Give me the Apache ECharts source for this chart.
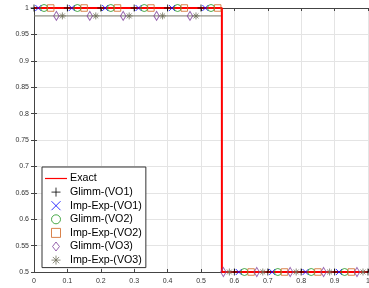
<!DOCTYPE html>
<html>
<head>
<meta charset="utf-8">
<script src="https://cdn.jsdelivr.net/npm/echarts@6/dist/echarts.min.js"></script>
<style>
  html, body { margin: 0; padding: 0; background: #fff; }
  #chart { width: 369px; height: 288px; }
</style>
</head>
<body>
<div id="chart"></div>
<script>
  // exact solution (step)
  var exactX = [0, 0.5625, 0.5625, 1]
  var exactY = [1, 1, 0.5, 0.5]

  // line under VO3 markers
  var vo3LineX = [0, 0.5625]
  var vo3LineY = [0.985, 0.985]

  // marker positions of each numerical solution
  var glimm1X = [0, 0.1, 0.2, 0.3, 0.4, 0.5, 0.6, 0.7, 0.8, 0.9, 1.0]
  var glimm1Y = [1, 1, 1, 1, 1, 1, 0.5, 0.5, 0.5, 0.5, 0.5]
  var impExp1X = [0.013, 0.113, 0.213, 0.313, 0.413, 0.513, 0.613, 0.713, 0.813, 0.913]
  var impExp1Y = [1, 1, 1, 1, 1, 1, 0.5, 0.5, 0.5, 0.5]
  var glimm2X = [0.03, 0.13, 0.23, 0.33, 0.43, 0.53, 0.63, 0.73, 0.83, 0.93]
  var glimm2Y = [1, 1, 1, 1, 1, 1, 0.5, 0.5, 0.5, 0.5]
  var impExp2X = [0.05, 0.15, 0.25, 0.35, 0.45, 0.55, 0.65, 0.75, 0.85, 0.95]
  var impExp2Y = [1, 1, 1, 1, 1, 1, 0.5, 0.5, 0.5, 0.5]
  var glimm3X = [0.067, 0.167, 0.267, 0.367, 0.467, 0.567, 0.667, 0.767, 0.867, 0.967]
  var glimm3Y = [0.985, 0.985, 0.985, 0.985, 0.985, 0.5, 0.5, 0.5, 0.5, 0.5]
  var impExp3X = [0.085, 0.185, 0.285, 0.385, 0.485, 0.585, 0.685, 0.785, 0.885, 0.985]
  var impExp3Y = [0.985, 0.985, 0.985, 0.985, 0.985, 0.5, 0.5, 0.5, 0.5, 0.5]

  var xTicks = ['0', '0.1', '0.2', '0.3', '0.4', '0.5', '0.6', '0.7', '0.8', '0.9', '1']
  var yTicks = ['0.5', '0.55', '0.6', '0.65', '0.7', '0.75', '0.8', '0.85', '0.9', '0.95', '1']

  var font = 'Liberation Sans, Arial, Helvetica, sans-serif'

  function pairs (xs, ys) {
    var out = []
    for (var i = 0; i < xs.length; i++) {
      out.push([xs[i], ys[i]])
    }
    return out
  }

  function markerSeries (name, xs, ys, symbol, size, color) {
    return {
      name: name,
      type: 'scatter',
      clip: false,
      symbol: symbol,
      symbolSize: size,
      symbolKeepAspect: true,
      itemStyle: {color: 'transparent', borderColor: color, borderWidth: 1},
      emphasis: {disabled: true},
      data: pairs(xs, ys),
      z: 3
    }
  }

  var plusPath = 'path://M0,5L10,5M5,0L5,10'
  var crossPath = 'path://M0,0L10,10M10,0L0,10'
  var starPath = 'path://M5,0L5,10M0,5L10,5M1.5,1.5L8.5,8.5M8.5,1.5L1.5,8.5'
  var squarePath = 'path://M0,0L10,0L10,10L0,10Z'
  var diamondPath = 'path://M5,0L10,6.5L5,13L0,6.5Z'
  var linePath = 'path://M0,0L22,0L22,1.2L0,1.2Z'

  var axisColor = '#444'
  var gridColor = '#e4e4e4'

  function legendItem (name, icon, color) {
    return {name: name, icon: icon, itemStyle: {color: 'transparent', borderColor: color, borderWidth: 1}}
  }

  var myChart = echarts.init(document.getElementById('chart'))
  var option = {
    animation: false,
    grid: {left: 34, right: 1, top: 8, bottom: 16, outerBoundsMode: 'none', containLabel: false},
    legend: {
      orient: 'vertical',
      left: 42,
      top: 167,
      padding: [6, 4, 2, 3],
      itemGap: 2.6,
      itemWidth: 22,
      itemHeight: 9,
      borderColor: '#333',
      borderWidth: 1,
      backgroundColor: '#fff',
      textStyle: {fontSize: 10.7, color: '#000', fontFamily: font, padding: [0, 0, 0, -2]},
      data: [
        {name: 'Exact', icon: linePath, itemStyle: {color: '#ff0000', borderWidth: 0}},
        legendItem('Glimm-(VO1)', plusPath, '#000000'),
        legendItem('Imp-Exp-(VO1)', crossPath, '#0000ff'),
        legendItem('Glimm-(VO2)', 'path://M5,0A5,5,0,1,1,4.99,0Z', '#1f961f'),
        legendItem('Imp-Exp-(VO2)', squarePath, '#cf6420'),
        legendItem('Glimm-(VO3)', diamondPath, '#7e3f9a'),
        legendItem('Imp-Exp-(VO3)', starPath, '#6e6e5a')
      ]
    },
    xAxis: [{
      type: 'value',
      min: 0,
      max: 1,
      interval: 0.1,
      axisLine: {lineStyle: {color: axisColor, width: 1}},
      axisTick: {inside: true, length: 3, lineStyle: {color: axisColor}},
      axisLabel: {
        fontSize: 7, color: '#333', fontFamily: font, margin: 6,
        formatter: function (v) { return xTicks[Math.round(v * 10)] }
      },
      splitLine: {show: true, lineStyle: {color: gridColor, width: 1}}
    }, {
      type: 'value',
      position: 'top',
      min: 0,
      max: 1,
      interval: 0.1,
      axisLine: {show: true, lineStyle: {color: axisColor, width: 1}},
      axisTick: {show: true, inside: true, length: 3, lineStyle: {color: axisColor}},
      axisLabel: {show: false},
      splitLine: {show: false}
    }],
    yAxis: [{
      type: 'value',
      min: 0.5,
      max: 1,
      interval: 0.05,
      axisLine: {show: true, lineStyle: {color: axisColor, width: 1}},
      axisTick: {show: true, inside: true, length: 3, lineStyle: {color: axisColor}},
      axisLabel: {
        fontSize: 7, color: '#333', fontFamily: font, margin: 5,
        formatter: function (v) { return yTicks[Math.round((v - 0.5) * 20)] }
      },
      splitLine: {show: true, lineStyle: {color: gridColor, width: 1}}
    }, {
      type: 'value',
      position: 'right',
      min: 0.5,
      max: 1,
      interval: 0.05,
      axisLine: {show: true, lineStyle: {color: axisColor, width: 1}},
      axisTick: {show: true, inside: true, length: 3, lineStyle: {color: axisColor}},
      axisLabel: {show: false},
      splitLine: {show: false}
    }],
    series: [
      {
        name: 'vo3line',
        type: 'line',
        symbol: 'none',
        clip: false,
        lineStyle: {color: '#77776a', width: 1},
        data: pairs(vo3LineX, vo3LineY),
        z: 2
      },
      {
        name: 'Exact',
        type: 'line',
        symbol: 'none',
        clip: false,
        color: '#ff0000',
        lineStyle: {color: '#ff0000', width: 2},
        data: pairs(exactX, exactY),
        z: 2
      },
      markerSeries('Glimm-(VO1)', glimm1X, glimm1Y, plusPath, 7, '#000000'),
      markerSeries('Imp-Exp-(VO1)', impExp1X, impExp1Y, crossPath, 6, '#0000ff'),
      markerSeries('Glimm-(VO2)', glimm2X, glimm2Y, 'circle', 7, '#1f961f'),
      markerSeries('Imp-Exp-(VO2)', impExp2X, impExp2Y, squarePath, 6.5, '#cf6420'),
      markerSeries('Glimm-(VO3)', glimm3X, glimm3Y, diamondPath, [7, 9], '#7e3f9a'),
      markerSeries('Imp-Exp-(VO3)', impExp3X, impExp3Y, starPath, 7, '#6e6e5a')
    ]
  }
  myChart.setOption(option, true)
</script>
</body>
</html>
